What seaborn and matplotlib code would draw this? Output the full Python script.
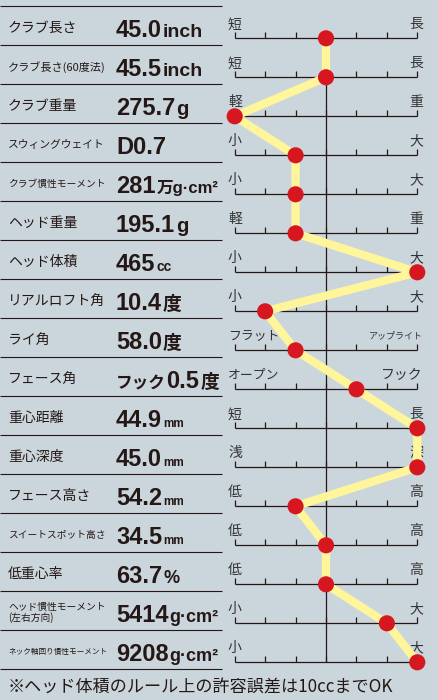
import seaborn as sns
import numpy as np
import pandas as pd
import matplotlib.pyplot as plt
from matplotlib import transforms

# spec rows
names = ['クラブ長さ', 'クラブ長さ(60度法)', 'クラブ重量', 'スウィングウェイト', 'クラブ慣性モーメント',
         'ヘッド重量', 'ヘッド体積', 'リアルロフト角', 'ライ角', 'フェース角', '重心距離', '重心深度',
         'フェース高さ', 'スイートスポット高さ', '低重心率', 'ヘッド慣性モーメント\n(左右方向)',
         'ネック軸回り慣性モーメント']
prefixes = ['', '', '', '', '', '', '', '', '', 'フック', '', '', '', '', '', '', '']
numbers = ['45.0', '45.5', '275.7', 'D0.7', '281', '195.1', '465', '10.4', '58.0', '0.5',
           '44.9', '45.0', '54.2', '34.5', '63.7', '5414', '9208']
units = ['inch', 'inch', 'g', '', '万g·cm²', 'g', 'cc', '度', '度', '度', 'mm', 'mm', 'mm', 'mm',
         '%', 'g·cm²', 'g·cm²']
low_labels = ['短', '短', '軽', '小', '小', '軽', '小', '小', 'フラット', 'オープン', '短', '浅',
              '低', '低', '低', '小', '小']
high_labels = ['長', '長', '重', '大', '大', '重', '大', '大', 'アップライト', 'フック', '長', '深',
               '高', '高', '高', '大', '大']
scores = [3, 3, 0, 2, 2, 2, 6, 1, 2, 4, 6, 6, 2, 3, 3, 5, 6]
footnote = '※ヘッド体積のルール上の許容誤差は10ccまでOK'

df = pd.DataFrame({'row': np.arange(len(scores)), 'score': scores})

BG = '#cbd5dc'
INK = '#231815'
YELLOW = '#fff59b'
RED = '#d7171f'
JP = 'Noto Sans CJK JP'
NUM = 'Liberation Sans'
unit_size = {'inch': 14, 'g': 14.5, 'cc': 10, '度': 13.5, 'mm': 8.5, '%': 13,
             'g·cm²': 13, '万g·cm²': 12, '': 12}

W, H = 439, 700
X0, X6 = 234.7, 417.3      # pixel x of scale 0 and 6
Y0, PITCH = 38.3, 39.0     # pixel y of first scale line, row pitch
u = (X6 - X0) / 6

fig = plt.figure(figsize=(W / 100, H / 100), dpi=100, facecolor=BG)
ax = fig.add_axes([0, 0, 1, 1])
ax.set_facecolor(BG)
ax.set_xlim(-X0 / u, 6 + (W - X6) / u)
ax.set_ylim((H - Y0) / PITCH, -Y0 / PITCH)
ax.axis('off')
blend = transforms.blended_transform_factory(fig.transFigure, ax.transData)
renderer = fig.canvas.get_renderer()


def fit(t, maxw):
    while t.get_window_extent(renderer).width > maxw:
        t.set_fontsize(t.get_fontsize() - 0.25)


n = len(scores)
# left table separators
for k in range(n + 1):
    y = k - (Y0 - 6) / PITCH
    ax.plot([0, 222 / W], [y, y], color=INK, lw=0.8, transform=blend, solid_capstyle='butt')

# scale lines + ticks
ax.vlines(3, 0, n - 1, color=INK, lw=0.9, zorder=1)
tick_h = 6 / PITCH
for i in range(n):
    ax.hlines(i, 0, 6, color=INK, lw=0.9, zorder=1)
    ax.vlines(np.arange(7), i - tick_h, i, color=INK, lw=0.9, zorder=1)
    tl = ax.text((228 - X0) / u, i - 14 / PITCH, low_labels[i], ha='left', va='center',
                 fontsize=10, family=JP, color='#333333', zorder=2)
    fit(tl, 52)
    tr = ax.text((423 - X0) / u, i - 14 / PITCH, high_labels[i], ha='right', va='center',
                 fontsize=10, family=JP, color='#333333', zorder=2)
    fit(tr, 56)

# left text
for i in range(n):
    nt = ax.text(8 / W, i - 10.5 / PITCH, names[i], transform=blend, ha='left', va='center',
                 fontsize=10 if '\n' not in names[i] else 8, linespacing=1.0,
                 family=JP, color=INK)
    fit(nt, 100)
    x = 116
    base = i - 1.3 / PITCH
    if prefixes[i]:
        pt = ax.text(x / W, base, prefixes[i], transform=blend, ha='left', va='baseline',
                     fontsize=12, fontweight='bold', family=JP, color=INK)
        x = pt.get_window_extent(renderer).x1 + 0.5
    vt = ax.text(x / W, base, numbers[i], transform=blend, ha='left', va='baseline',
                 fontsize=17, fontweight='bold', family=NUM, color=INK)
    x = vt.get_window_extent(renderer).x1 + 1
    if units[i]:
        ax.text(x / W, base, units[i], transform=blend, ha='left', va='baseline',
                fontsize=unit_size[units[i]], fontweight='bold', family=[NUM, JP], color=INK)

# profile line and points
sns.lineplot(data=df, x='score', y='row', orient='y', sort=False, estimator=None, ax=ax,
             color=YELLOW, lw=6, zorder=3, solid_joinstyle='round', solid_capstyle='round')
sns.scatterplot(data=df, x='score', y='row', ax=ax, color=RED, s=135, edgecolor='none',
                zorder=4, legend=False)

ax.text(8 / W, (688 - Y0) / PITCH, footnote, transform=blend, ha='left', va='center',
        fontsize=12.3, family=JP, color=INK)

fig.savefig('out.png', dpi=100, facecolor=BG)
